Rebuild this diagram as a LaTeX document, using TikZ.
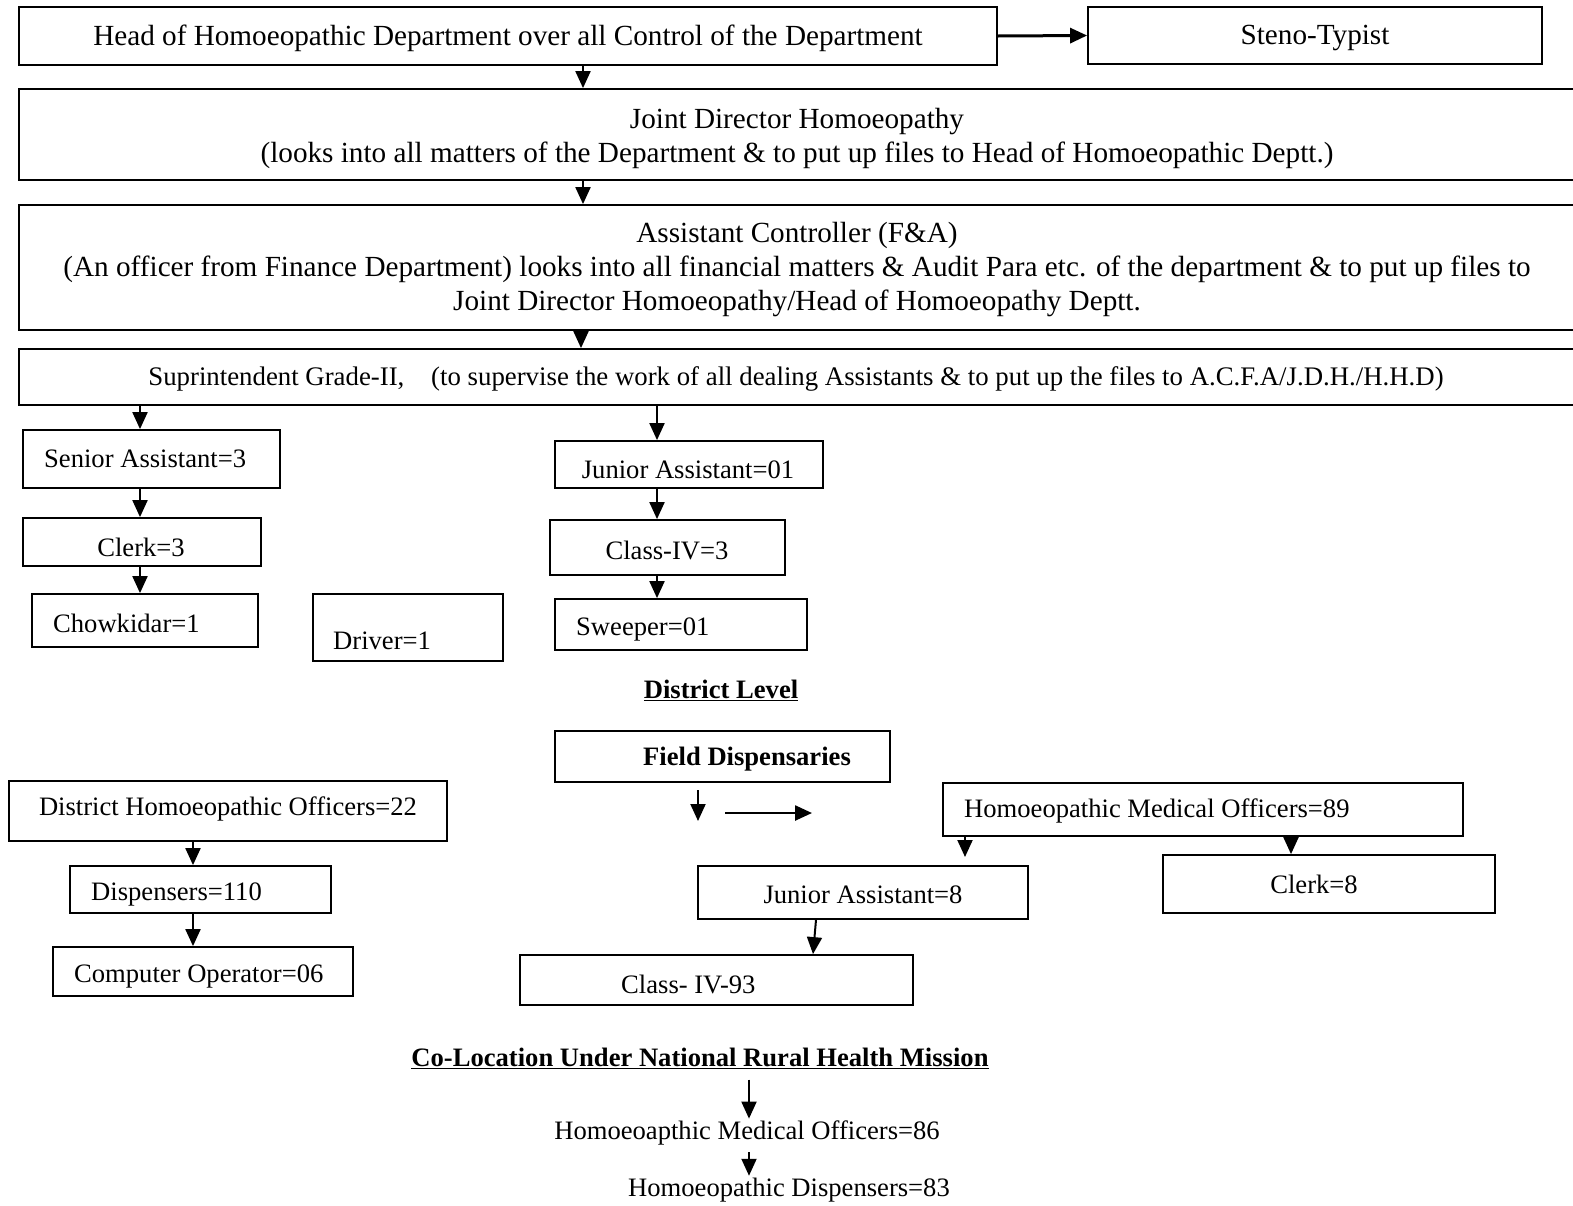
\documentclass[tikz,border=0pt]{standalone}
\usepackage{fontspec}
\setmainfont{Liberation Serif}
\usetikzlibrary{arrows.meta,fit}
\begin{document}
\begin{tikzpicture}[x=1pt,y=-1pt,
  box/.style={draw, line width=1.8pt, inner sep=0pt},
  big/.style={inner sep=0pt, yshift=-2pt, font=\fontsize{29.2}{34}\selectfont},
  txt/.style={inner sep=0pt, yshift=-2pt, font=\fontsize{26.6}{34}\selectfont},
  small/.style={inner sep=0pt, yshift=-2pt, font=\fontsize{26.8}{30}\selectfont},
  hd/.style={inner sep=0pt, yshift=-2pt, font=\fontsize{26.6}{30}\selectfont\bfseries},
  arr/.style={line width=2pt, -{Triangle[length=17pt,width=15pt]}}]
\useasboundingbox (0,0) rectangle (1573,1205);
% ---------- head office ----------
\node[box, fit={(19,7)(997,65)}] (head) {};
\node[big] (headT) at (508,36) {Head of Homoeopathic Department over all Control of the Department};
\node[box, fit={(1088,7)(1542,64)}] (steno) {};
\node[big] (stenoT) at (1315,36) {Steno-Typist};
\node[box, fit={(19,89)(1590,180)}] (jd) {};
\node[big, align=center] (jdT) at (797,136) {Joint Director Homoeopathy\\(looks into all matters of the Department \& to put up files to Head of Homoeopathic Deptt.)};
\node[box, fit={(19,205)(1590,330)}] (ac) {};
\node[big, align=center] (acT) at (797,268) {Assistant Controller (F\&A)\\(An officer from Finance Department) looks into all financial matters \& Audit Para etc. of the department \& to put up files to\\Joint Director Homoeopathy/Head of Homoeopathy Deptt.};
\node[box, fit={(19,349)(1590,405)}] (supr) {};
\node[small] (suprT) at (796,377) {Suprintendent Grade-II,\quad (to supervise the work of all dealing Assistants \& to put up the files to A.C.F.A/J.D.H./H.H.D)};
% ---------- left column ----------
\node[box, fit={(23,430)(280,488)}] (sa) {};
\node[txt, anchor=west] (saT) at (44,457) {Senior Assistant=3};
\node[box, fit={(23,518)(261,566)}] (clk) {};
\node[txt] (clkT) at (141,545) {Clerk=3};
\node[box, fit={(32,594)(258,647)}] (chow) {};
\node[txt, anchor=west] (chowT) at (53,621) {Chowkidar=1};
\node[box, fit={(313,594)(503,661)}] (drv) {};
\node[txt, anchor=west] (drvT) at (333,639) {Driver=1};
% ---------- right column ----------
\node[box, fit={(555,441)(823,488)}] (ja) {};
\node[txt] (jaT) at (688,468) {Junior Assistant=01};
\node[box, fit={(550,520)(785,575)}] (c4) {};
\node[txt] (c4T) at (667,548) {Class-IV=3};
\node[box, fit={(555,599)(807,650)}] (sw) {};
\node[txt, anchor=west] (swT) at (576,627) {Sweeper=01};
% ---------- district level ----------
\node[hd] (dl) at (721,688) {\underline{District Level}};
\node[box, fit={(555,731)(890,782)}] (fd) {};
\node[hd, anchor=west] (fdT) at (643,757) {Field Dispensaries};
\node[box, fit={(943,783)(1463,836)}] (hmo) {};
\node[txt, anchor=west] (hmoT) at (964,809) {Homoeopathic Medical Officers=89};
\node[box, fit={(1163,855)(1495,913)}] (clk8) {};
\node[txt] (clk8T) at (1314,882) {Clerk=8};
\node[box, fit={(698,866)(1028,919)}] (ja8) {};
\node[txt] (ja8T) at (863,893) {Junior Assistant=8};
\node[box, fit={(520,955)(913,1005)}] (c493) {};
\node[txt, anchor=west] (c493T) at (621,982) {Class- IV-93};
\node[box, fit={(9,781)(447,841)}] (dho) {};
\node[txt] (dhoT) at (228,807) {District Homoeopathic Officers=22};
\node[box, fit={(70,866)(331,913)}] (disp) {};
\node[txt, anchor=west] (dispT) at (91,892) {Dispensers=110};
\node[box, fit={(53,947)(353,996)}] (comp) {};
\node[txt, anchor=west] (compT) at (74,974) {Computer Operator=06};
% ---------- NRHM ----------
\node[hd] (nrhm) at (700,1056) {\underline{Co-Location Under National Rural Health Mission}};
\node[txt] (hmo86) at (747,1131) {Homoeoapthic Medical Officers=86};
\node[txt] (hd83) at (789,1188) {Homoeopathic Dispensers=83};
% ---------- x positions of connectors ----------
\coordinate (xa) at (583,0);
\coordinate (xb) at (581,0);
\coordinate (xc) at (140,0);
\coordinate (xd) at (657,0);
\coordinate (xe) at (816,0);
\coordinate (xf) at (813,0);
\coordinate (xg) at (193,0);
\coordinate (xh) at (1291,0);
\coordinate (xk) at (749,0);
\coordinate (fdA) at (698,790);
\coordinate (fdB) at (698,821);
\coordinate (fdC) at (725,813);
\coordinate (fdD) at (812,813);
\coordinate (hmoEnd) at (965,857);
% ---------- connectors ----------
\draw[arr, line width=3pt] (head.east) -- (steno.west);
\draw[arr] (head.south -| xa) -- (jd.north -| xa);
\draw[arr] (jd.south -| xa) -- (ac.north -| xa);
\draw[arr] (ac.south -| xb) -- (supr.north -| xb);
\draw[arr] (supr.south -| xc) -- (sa.north -| xc);
\draw[arr] (sa.south -| xc) -- (clk.north -| xc);
\draw[arr] (clk.south -| xc) -- (chow.north -| xc);
\draw[arr] (supr.south -| xd) -- (ja.north -| xd);
\draw[arr] (ja.south -| xd) -- (c4.north -| xd);
\draw[arr] (c4.south -| xd) -- (sw.north -| xd);
\draw[arr] (fdA) -- (fdB);
\draw[arr, line width=2.5pt] (fdC) -- (fdD);
\draw[arr] (hmo.south -| hmoEnd) -- (hmoEnd);
\draw[arr] (hmo.south -| xh) -- (clk8.north -| xh);
\draw[arr] (ja8.south -| xe) -- (c493.north -| xf);
\draw[arr] (dho.south -| xg) -- (disp.north -| xg);
\draw[arr] (disp.south -| xg) -- (comp.north -| xg);
\draw[arr, shorten <=11pt, shorten >=2pt] (nrhm.south -| xk) -- (hmo86.north -| xk);
\draw[arr, shorten <=7pt, shorten >=2pt] (hmo86.south -| xk) -- (hd83.north -| xk);
\end{tikzpicture}
\end{document}
